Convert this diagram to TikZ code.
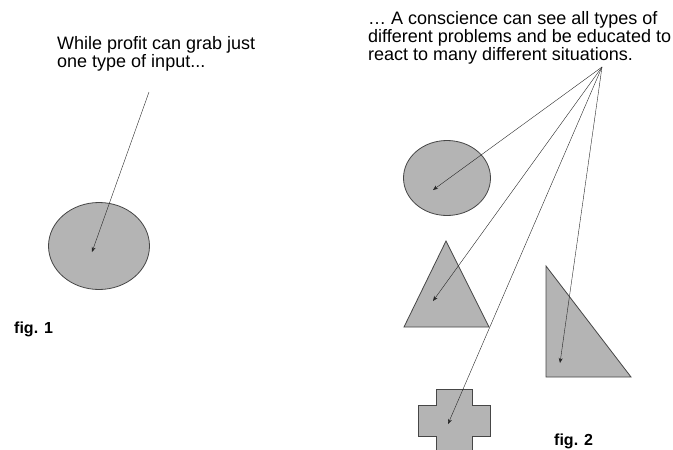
\documentclass[tikz,border=0pt]{standalone}
\usepackage{fontspec}
\setmainfont{Liberation Sans}
\usetikzlibrary{shapes.geometric,arrows.meta}

\definecolor{shapegray}{RGB}{180,180,180}
\definecolor{edgegray}{RGB}{70,70,70}

\tikzset{
  blob/.style={ellipse, draw=edgegray, fill=shapegray, thick, inner sep=0pt},
  piece/.style={draw=edgegray, fill=shapegray, thick},
  pointer/.style={-{Stealth[length=5pt,width=4pt]}, thin, black!85},
  words/.style={anchor=base west, font=\fontsize{18}{18}\selectfont, align=left, inner sep=0pt},
  figlabel/.style={anchor=base west, font=\fontsize{16}{16}\selectfont\bfseries, inner sep=0pt}
}

\begin{document}
\begin{tikzpicture}[x=1pt, y=-1pt]
\useasboundingbox (0,0) rectangle (673,450);

% fig. 1
\begin{scope}
   \node[words] (profit) at (57,67) {While profit can grab just\\one type of input...};
   \node[blob, minimum width=101pt, minimum height=87pt] (onecircle) at (99,246) {};
   \coordinate (onestart) at (149,92);
   \coordinate (onehit) at (92,252);
   \draw[pointer] (onestart) -- (onehit);
   \node[figlabel] (figone) at (14,333) {fig. 1};
\end{scope}

% fig. 2
\begin{scope}
   \node[words] (conscience) at (368,60) {\dots\ A conscience can see all types of\\different problems and be educated to\\react to many different situations.};
   \coordinate (fan) at (602,67);

   \node[blob, minimum width=87pt, minimum height=75pt] (circle) at (447,178) {};
   \draw[piece] (404,327) -- (446,241) -- (489,327) -- cycle;
   \draw[piece] (546,266) -- (546,377) -- (631,377) -- cycle;
   \draw[piece] (436,389) -- (472,389) -- (472,405) -- (490,405) -- (490,436)
      -- (472,436) -- (472,452) -- (436,452) -- (436,436) -- (418,436)
      -- (418,405) -- (436,405) -- cycle;

   \coordinate (circlehit) at (433,190);
   \coordinate (trianglehit) at (433,301);
   \coordinate (righthit) at (560,363);
   \coordinate (crosshit) at (448,424);
   \foreach \target in {circlehit, trianglehit, righthit, crosshit}
      \draw[pointer] (fan) -- (\target);

   \node[figlabel] (figtwo) at (554,445) {fig. 2};
\end{scope}

\end{tikzpicture}
\end{document}
